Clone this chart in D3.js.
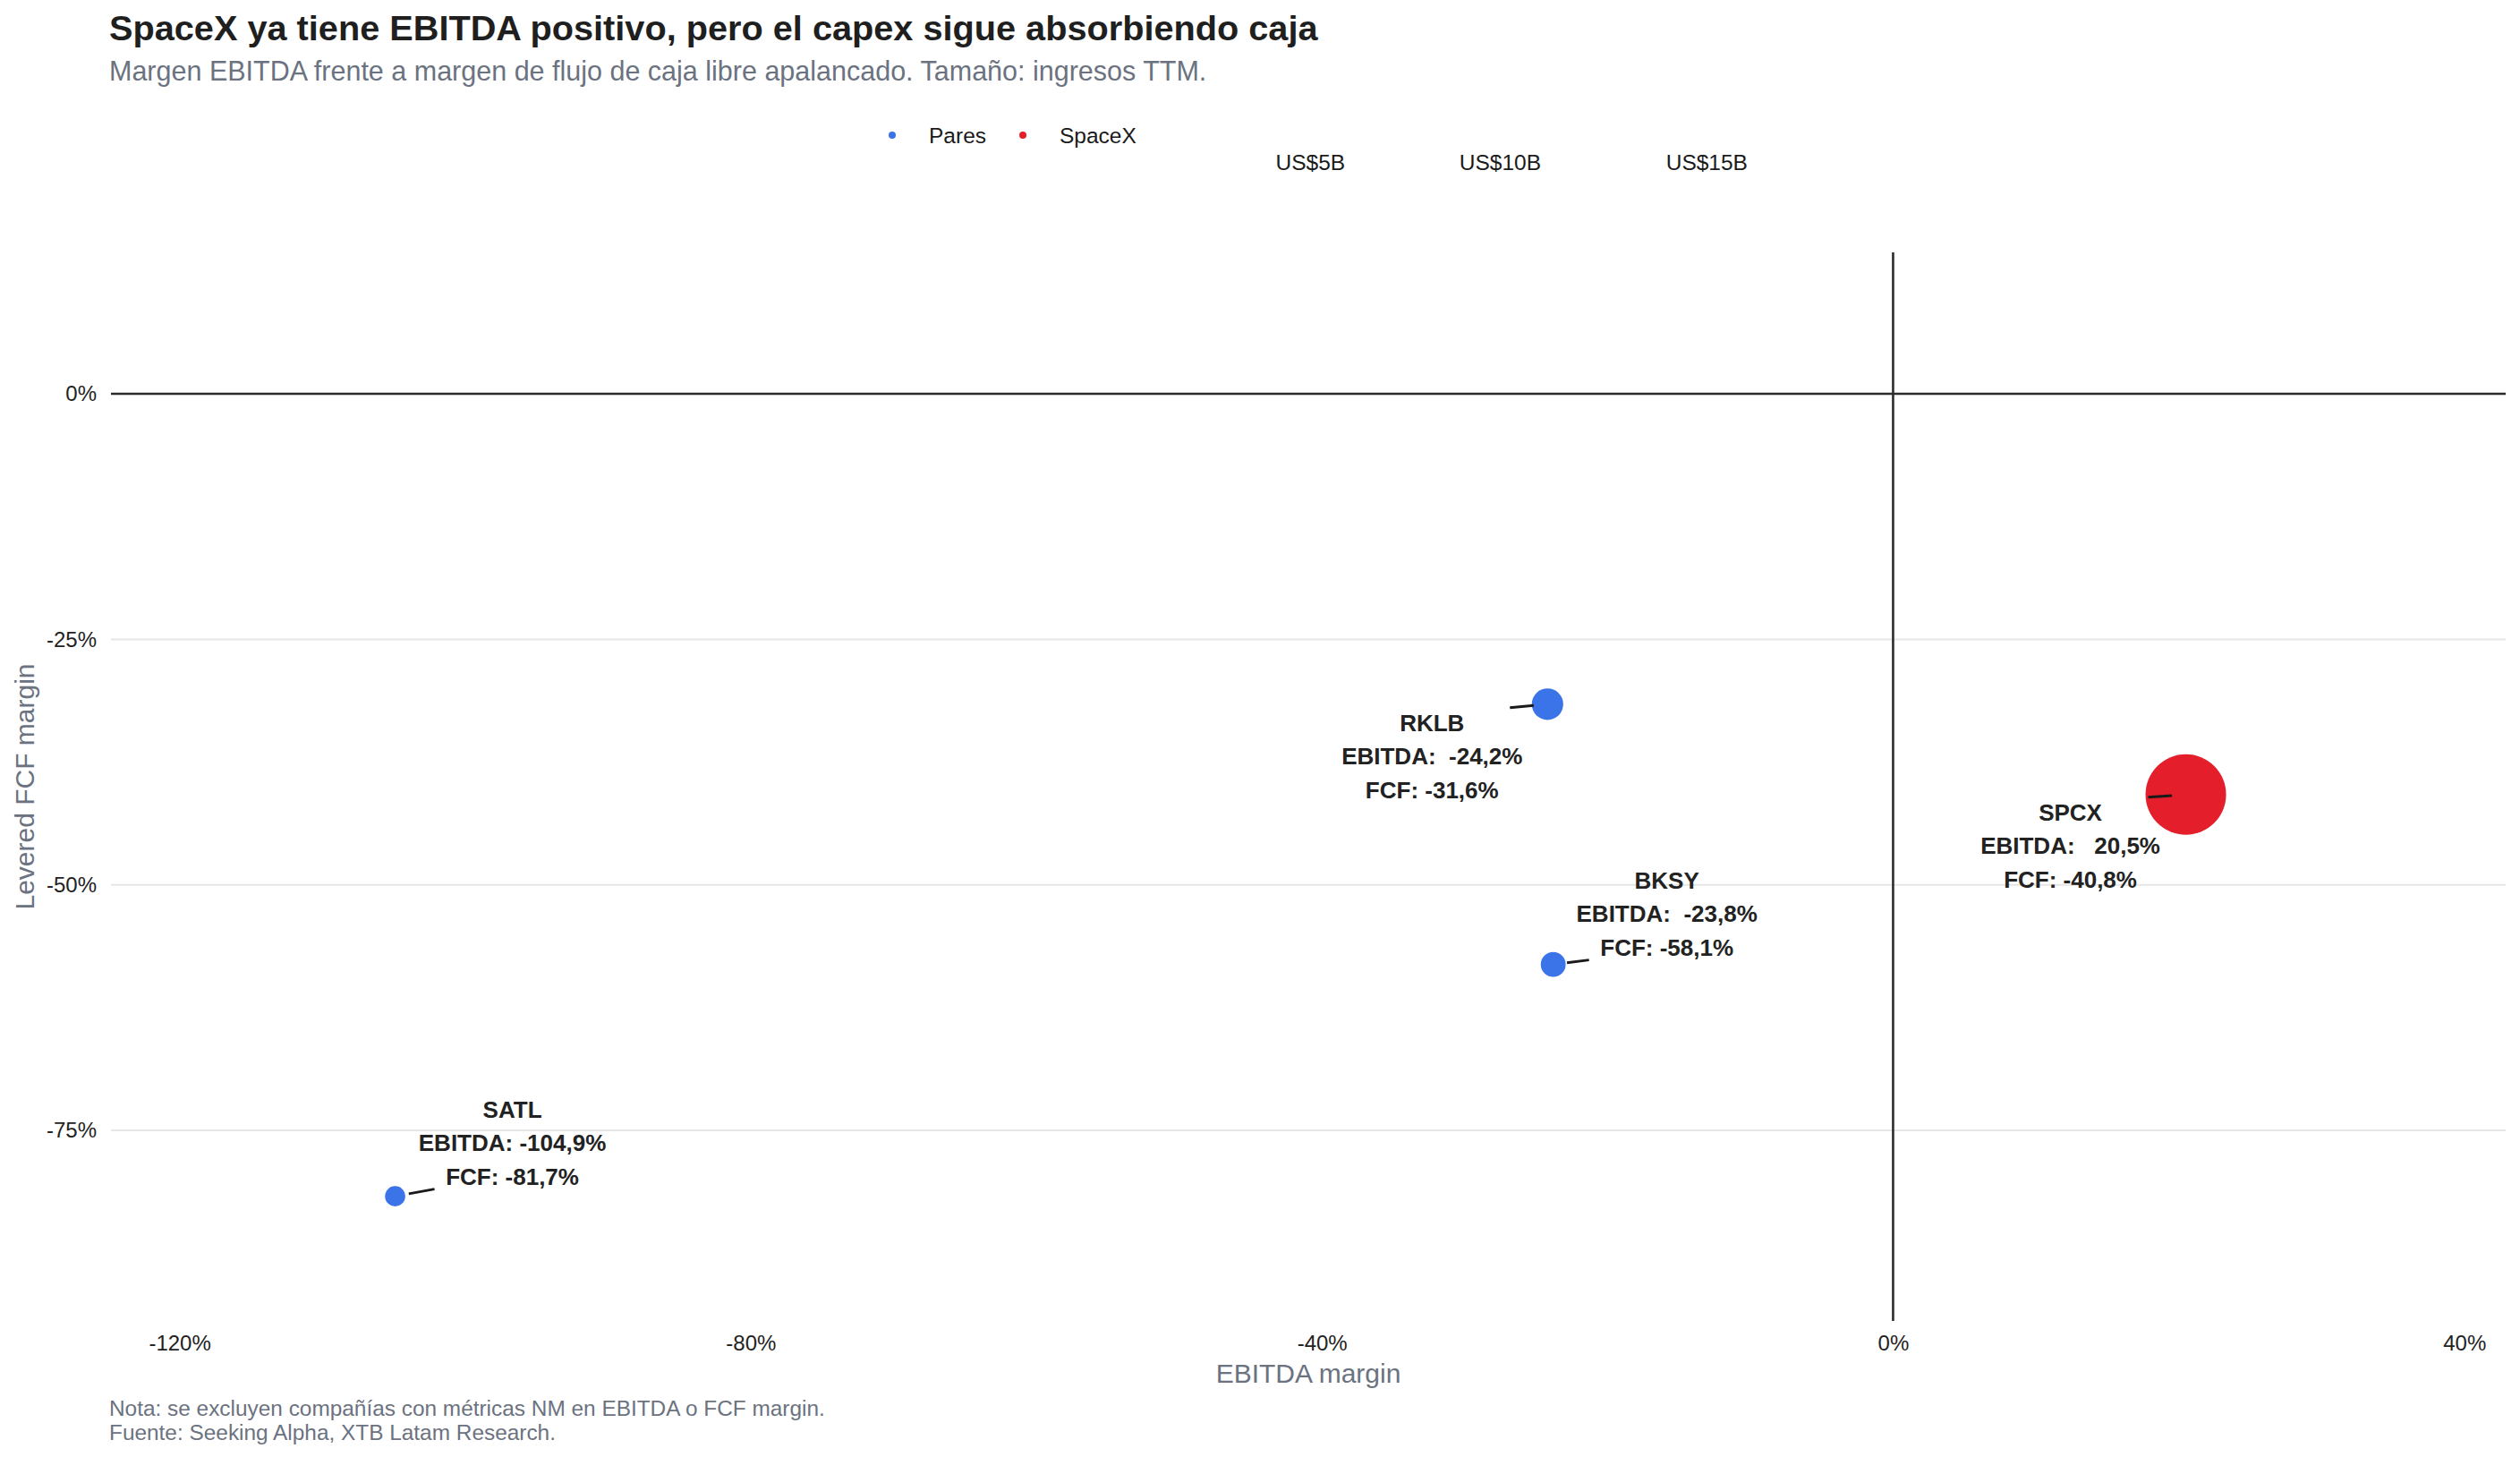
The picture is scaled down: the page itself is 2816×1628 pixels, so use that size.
<!DOCTYPE html>
<html><head><meta charset="utf-8">
<script src="https://cdn.jsdelivr.net/npm/d3@7"></script>
<style>
body{margin:0;background:#fff}
text{font-family:"Liberation Sans",Arial,Helvetica,sans-serif}
</style>
</head><body>
<svg id="chart" width="2816" height="1628"></svg>
<script>
// ---------- data ----------
const tickers = ["RKLB", "BKSY", "SATL", "SPCX"];
const groups = ["Pares", "Pares", "Pares", "SpaceX"];
const ebitdaMargin = [-24.2, -23.8, -104.9, 20.5];   // %
const fcfMargin = [-31.6, -58.1, -81.7, -40.8];      // %
const revenueTTM = [0.555, 0.105, 0.0128, 15.6];     // US$ billions (estimated)
const xTicks = [-120, -80, -40, 0, 40];
const yTicks = [0, -25, -50, -75];
const legendGroups = ["Pares", "SpaceX"];
const sizeBreaks = [5, 10, 15];
const sizeLabels = ["US$5B", "US$10B", "US$15B"];

// ---------- layout / style ----------
const W = 2816, H = 1628;
const panel = {left: 124, right: 2800, top: 282, bottom: 1476};
const colors = {Pares: "#3b73e9", SpaceX: "#e41e2b"};
const labelLayout = [ // label block offset (px) from its point: centre x, first-line centre y
  {dx: -129, dy: 21},
  {dx: 127, dy: -94},
  {dx: 131, dy: -97},
  {dx: -129, dy: 20}
];
const lineGap = 37.5;

const svg = d3.select("#chart");
svg.append("rect").attr("width", W).attr("height", H).attr("fill", "#fff");

const x = d3.scaleLinear().domain([-124.8, 42.9]).range([panel.left, panel.right]);
const y = d3.scaleLinear().domain([14.4, -94.4]).range([panel.top, panel.bottom]);

// ggplot-like area palette: r = rmin + (rmax-rmin)*sqrt(rescaled value)
const resc = d3.scaleLinear().domain(d3.extent(revenueTTM)).range([0, 1]).clamp(true);
const rLin = d3.scaleLinear().domain([0, 1]).range([11.3, 45]);
const r = v => rLin(Math.sqrt(resc(v)));

const data = tickers.map((t, i) => ({
  t, g: groups[i], e: ebitdaMargin[i], f: fcfMargin[i], rev: revenueTTM[i], lay: labelLayout[i]
}));

const hyph = s => s.replace(/\u2212/g, "-");
const pct = v => hyph(d3.format("d")(v)) + "%";

// ---------- title ----------
svg.append("text").attr("x", 122).attr("y", 45)
  .attr("font-size", 39.7).attr("font-weight", "bold").attr("fill", "#1f1f1f")
  .text("SpaceX ya tiene EBITDA positivo, pero el capex sigue absorbiendo caja");
svg.append("text").attr("x", 122).attr("y", 90)
  .attr("font-size", 30.5).attr("fill", "#6b7280")
  .text("Margen EBITDA frente a margen de flujo de caja libre apalancado. Tamaño: ingresos TTM.");

// ---------- legend ----------
const leg = svg.append("g");
let lx = 997;
legendGroups.forEach(gname => {
  leg.append("circle").attr("cx", lx).attr("cy", 151).attr("r", 4).attr("fill", colors[gname]);
  const tx = leg.append("text").attr("x", lx + 41).attr("y", 151).attr("dy", "0.35em")
    .attr("font-size", 24.5).attr("fill", "#1a1a1a").text(gname);
  lx = lx + 41 + tx.node().getComputedTextLength() + 41;
});
// size legend (keys are invisible in the original, only labels shown)
let sx = lx + 3;
sizeBreaks.forEach((b, i) => {
  sx += 2 * r(b) + 51;
  const tx = leg.append("text").attr("x", sx).attr("y", 181).attr("dy", "0.35em")
    .attr("font-size", 24.5).attr("fill", "#1a1a1a").text(sizeLabels[i]);
  sx += tx.node().getComputedTextLength();
});

// ---------- grid ----------
const grid = svg.append("g");
grid.selectAll("line.h").data(yTicks).join("line")
  .attr("x1", panel.left).attr("x2", panel.right)
  .attr("y1", d => y(d)).attr("y2", d => y(d))
  .attr("stroke", "#e6e6e6").attr("stroke-width", 2);

// axes (labels only)
const xAxis = svg.append("g").attr("transform", `translate(0,${panel.bottom})`)
  .call(d3.axisBottom(x).tickValues(xTicks).tickFormat(pct).tickSize(0).tickPadding(16));
const yAxis = svg.append("g").attr("transform", `translate(${panel.left},0)`)
  .call(d3.axisLeft(y).tickValues(yTicks).tickFormat(pct).tickSize(0).tickPadding(16));
[xAxis, yAxis].forEach(a => {
  a.select(".domain").remove();
  a.selectAll("text").attr("font-size", 24).attr("fill", "#222")
    .attr("font-family", '"Liberation Sans",Arial,sans-serif');
});

// reference lines
svg.append("line").attr("x1", panel.left).attr("x2", panel.right)
  .attr("y1", y(0)).attr("y2", y(0)).attr("stroke", "#2b2b2b").attr("stroke-width", 2.6);
svg.append("line").attr("x1", x(0)).attr("x2", x(0))
  .attr("y1", panel.top).attr("y2", panel.bottom).attr("stroke", "#2b2b2b").attr("stroke-width", 2.6);

// axis titles
svg.append("text").attr("x", (panel.left + panel.right) / 2).attr("y", 1534).attr("dy", "0.35em")
  .attr("text-anchor", "middle").attr("font-size", 30).attr("fill", "#6b7280").text("EBITDA margin");
svg.append("text").attr("transform", `translate(27,${(panel.top + panel.bottom) / 2}) rotate(-90)`)
  .attr("dy", "0.35em").attr("text-anchor", "middle").attr("font-size", 30).attr("fill", "#6b7280")
  .text("Levered FCF margin");

// ---------- points ----------
svg.append("g").selectAll("circle").data(data).join("circle")
  .attr("cx", d => x(d.e)).attr("cy", d => y(d.f)).attr("r", d => r(d.rev))
  .attr("fill", d => colors[d.g]);

// ---------- labels & leaders ----------
const fmtNum = v => hyph(d3.format(".1f")(v)).replace(".", ",");
const lab = svg.append("g");
data.forEach(d => {
  const px = x(d.e), py = y(d.f);
  const cx = px + d.lay.dx, cy = py + d.lay.dy;
  const lines = [d.t, "EBITDA: " + (fmtNum(d.e)).padStart(6, " ") + "%", "FCF: " + fmtNum(d.f) + "%"];
  // leader: toward the label box corner nearest the point
  const ex = cx + (px > cx ? 87 : -87);
  const ey = d.lay.dy > 0 ? cy - 17 : cy + 2 * lineGap + 14;
  const len = Math.hypot(ex - px, ey - py);
  const ux = (ex - px) / len, uy = (ey - py) / len;
  lab.append("line").attr("x1", px + ux * 15.5).attr("y1", py + uy * 15.5)
    .attr("x2", ex).attr("y2", ey).attr("stroke", "#1a1a1a").attr("stroke-width", 3);
  lines.forEach((s, k) => {
    lab.append("text").attr("x", cx).attr("y", cy + k * lineGap).attr("dy", "0.35em")
      .attr("text-anchor", "middle").attr("font-size", 26).attr("font-weight", "bold")
      .attr("fill", "#222").attr("xml:space", "preserve").style("white-space", "pre").text(s);
  });
});

// ---------- footnotes ----------
svg.append("text").attr("x", 122).attr("y", 1573).attr("dy", "0.35em")
  .attr("font-size", 24.4).attr("fill", "#6b7280")
  .text("Nota: se excluyen compañías con métricas NM en EBITDA o FCF margin.");
svg.append("text").attr("x", 122).attr("y", 1600).attr("dy", "0.35em")
  .attr("font-size", 24.4).attr("fill", "#6b7280")
  .text("Fuente: Seeking Alpha, XTB Latam Research.");
</script>
</body></html>
